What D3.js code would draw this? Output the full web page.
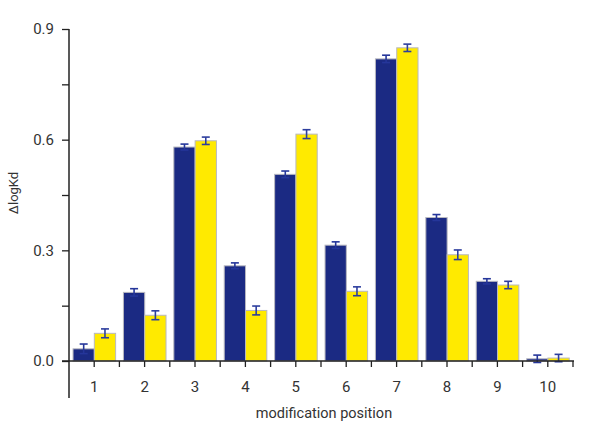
<!DOCTYPE html>
<html>
<head>
<meta charset="utf-8">
<script src="https://cdn.jsdelivr.net/npm/d3@7"></script>
<style>
  html, body { margin: 0; padding: 0; background: #fff; }
  svg { display: block; }
  text { font-family: Roboto, "Liberation Sans", sans-serif; fill: #333; }
</style>
</head>
<body>
<svg id="chart" width="600" height="435"></svg>
<script>
const categories = ["1","2","3","4","5","6","7","8","9","10"];
const seriesNames = ["A","B"];
const navyValues  = [0.033, 0.186, 0.580, 0.258, 0.506, 0.314, 0.819, 0.389, 0.216, 0.006];
const navyErrors  = [0.013, 0.010, 0.008, 0.008, 0.009, 0.009, 0.010, 0.008, 0.007, 0.010];
const yellowValues = [0.075, 0.124, 0.597, 0.137, 0.615, 0.189, 0.849, 0.288, 0.206, 0.008];
const yellowErrors = [0.012, 0.012, 0.010, 0.012, 0.012, 0.012, 0.010, 0.013, 0.010, 0.010];
const yTickValues = [0, 0.15, 0.3, 0.45, 0.6, 0.75, 0.9];
const yTickLabels = ["0.0", "", "0.3", "", "0.6", "", "0.9"];
const xLabel = "modification position";
const yLabel = "\u0394logKd";

const colors = { A: "#1b2a83", B: "#ffea00" };
const errColor = "#25369a";

const svg = d3.select("#chart");
const y = d3.scaleLinear().domain([0, 0.9]).range([361, 29]);
const x = d3.scaleBand().domain(categories).range([69, 573]).padding(0);
const xs = d3.scaleBand().domain(seriesNames)
  .range([x.bandwidth() * 0.08, x.bandwidth() * 0.925]).padding(0);

const data = categories.map((c, i) => ({
  cat: c,
  vals: [
    { s: "A", v: navyValues[i], e: navyErrors[i] },
    { s: "B", v: yellowValues[i], e: yellowErrors[i] }
  ]
}));

// bars
const g = svg.append("g");
const groups = g.selectAll("g.grp").data(data).join("g")
  .attr("class", "grp")
  .attr("transform", d => `translate(${x(d.cat)},0)`);

groups.selectAll("rect").data(d => d.vals).join("rect")
  .attr("x", d => xs(d.s))
  .attr("width", xs.bandwidth())
  .attr("y", d => y(d.v))
  .attr("height", d => y(0) - y(d.v))
  .attr("fill", d => colors[d.s])
  .attr("stroke", "#b8b8c0")
  .attr("stroke-width", 1);

// error bars
const eb = groups.selectAll("g.err").data(d => d.vals).join("g").attr("class", "err")
  .attr("stroke", d => d.s === "A" ? errColor : "#2d3e9e")
  .attr("stroke-width", 1.6).attr("fill", "none");
eb.append("line")
  .attr("x1", d => xs(d.s) + xs.bandwidth() / 2)
  .attr("x2", d => xs(d.s) + xs.bandwidth() / 2)
  .attr("y1", d => y(d.v - d.e))
  .attr("y2", d => y(d.v + d.e));
eb.append("line")
  .attr("x1", d => xs(d.s) + xs.bandwidth() / 2 - 4)
  .attr("x2", d => xs(d.s) + xs.bandwidth() / 2 + 4)
  .attr("y1", d => y(d.v + d.e))
  .attr("y2", d => y(d.v + d.e));
eb.append("line")
  .attr("x1", d => xs(d.s) + xs.bandwidth() / 2 - 4)
  .attr("x2", d => xs(d.s) + xs.bandwidth() / 2 + 4)
  .attr("y1", d => y(d.v - d.e))
  .attr("y2", d => y(d.v - d.e));

// y axis
const yAxis = d3.axisLeft(y).tickValues(yTickValues)
  .tickFormat((d, i) => yTickLabels[i]).tickSize(7).tickPadding(8).tickSizeOuter(0);
const yg = svg.append("g").attr("transform", "translate(69,0)").call(yAxis);
yg.select(".domain").remove();
yg.selectAll(".tick line").attr("stroke", "#222").attr("stroke-width", 1.3);
yg.selectAll(".tick text").style("font-size", "15px").attr("fill", "#333");
svg.append("line").attr("x1", 69).attr("x2", 69).attr("y1", y(0.9)).attr("y2", 398)
  .attr("stroke", "#222").attr("stroke-width", 1.5);

// x axis
const xAxis = d3.axisBottom(x).tickSize(6).tickPadding(14).tickSizeOuter(0);
const xg = svg.append("g").attr("transform", `translate(0,${y(0)})`).call(xAxis);
xg.select(".domain").remove();
xg.selectAll(".tick line").attr("stroke", "#222").attr("stroke-width", 1.3);
xg.selectAll(".tick text").style("font-size", "15px").attr("fill", "#333");
xg.selectAll("line.bound").data(categories).join("line").attr("class", "bound")
  .attr("x1", d => x(d) + x.bandwidth()).attr("x2", d => x(d) + x.bandwidth())
  .attr("y1", 0).attr("y2", 6).attr("stroke", "#222").attr("stroke-width", 1.3);
svg.append("line").attr("x1", 62).attr("x2", 574).attr("y1", y(0)).attr("y2", y(0))
  .attr("stroke", "#222").attr("stroke-width", 1.5);

// labels
svg.append("text").attr("x", 324).attr("y", 418).attr("text-anchor", "middle")
  .style("font-size", "14.5px").text(xLabel);
svg.append("text").attr("transform", "translate(18,193) rotate(-90)")
  .attr("text-anchor", "middle").style("font-size", "13px").text(yLabel);
</script>
</body>
</html>
